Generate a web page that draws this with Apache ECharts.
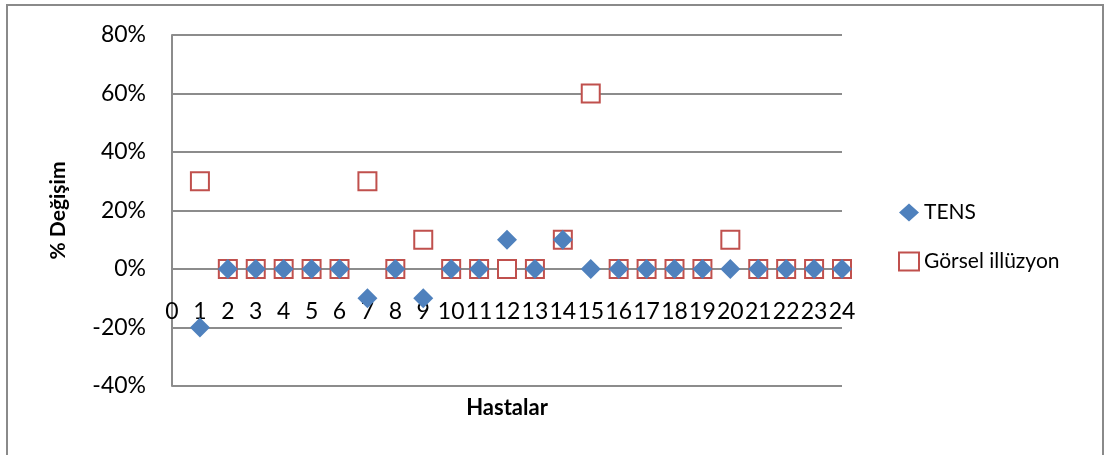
<!DOCTYPE html>
<html>
<head>
<meta charset="utf-8">
<script src="https://cdn.jsdelivr.net/npm/echarts@6/dist/echarts.min.js"></script>
<style>
html,body{margin:0;padding:0;background:#fff;}
#c{width:1105px;height:455px;}
</style>
</head>
<body>
<div id="c"></div>
<script>
var patients = [1,2,3,4,5,6,7,8,9,10,11,12,13,14,15,16,17,18,19,20,21,22,23,24];
var tens = [-20,0,0,0,0,0,-10,0,-10,0,0,10,0,10,0,0,0,0,0,0,0,0,0,0];
var gorsel = [30,0,0,0,0,0,30,0,10,0,0,0,0,10,60,0,0,0,0,10,0,0,0,0];
var yTicks = {min:-40, max:80, step:20};
var xTicks = {min:0, max:24, step:1};
var seriesNames = ['TENS','Görsel illüzyon'];
var axisTitles = {x:'Hastalar', y:'% Değişim'};

function pairs(xs, ys){ return xs.map(function(x,i){ return [x, ys[i]]; }); }

var FONT = 'Lato';
var chart = echarts.init(document.getElementById('c'), null, {renderer:'canvas'});
chart.setOption({
  animation:false,
  backgroundColor:'#ffffff',
  textStyle:{fontFamily:FONT},
  graphic:[{
    type:'rect', shape:{x:7,y:5,width:1096,height:470},
    style:{fill:'none', stroke:'#8a8a8a', lineWidth:2}, silent:true, z:-1
  }],
  title:{
    text:axisTitles.x, left:507, top:397, textAlign:'center', padding:0,
    textStyle:{fontFamily:FONT, fontSize:22, fontWeight:'bold', color:'#000'}
  },
  grid:{left:172, right:263, top:35, bottom:69, containLabel:false},
  legend:{
    orient:'vertical', left:893, top:197,
    itemWidth:20, itemHeight:18, itemGap:28,
    textStyle:{fontFamily:FONT, fontSize:21, color:'#000'},
    data:seriesNames
  },
  xAxis:{
    type:'value', min:xTicks.min, max:xTicks.max, interval:xTicks.step,
    axisLine:{show:false, onZero:false},
    axisTick:{show:false},
    splitLine:{show:false},
    axisLabel:{fontFamily:FONT, fontSize:23, color:'#000', margin:-86}
  },
  yAxis:{
    type:'value', min:yTicks.min, max:yTicks.max, interval:yTicks.step,
    axisLine:{show:true, lineStyle:{color:'#8c8c8c', width:2}},
    axisTick:{show:false},
    splitLine:{show:true, lineStyle:{color:'#8c8c8c', width:2}},
    axisLabel:{fontFamily:FONT, fontSize:23, color:'#000', margin:26, formatter:function(v){return v+'%';}},
    name:axisTitles.y, nameLocation:'middle', nameGap:103, nameRotate:90,
    nameTextStyle:{fontFamily:FONT, fontSize:21, fontWeight:'bold', color:'#000'}
  },
  series:[{
    name:seriesNames[1], type:'scatter', symbol:'rect', symbolSize:18,
    itemStyle:{color:'#ffffff', borderColor:'#C0504D', borderWidth:2, opacity:1},
    data:pairs(patients, gorsel), z:2
  },{
    name:seriesNames[0], type:'scatter', symbol:'diamond', symbolSize:20,
    itemStyle:{color:'#4F81BD', opacity:1},
    data:pairs(patients, tens), z:3
  }]
});
</script>
</body>
</html>
